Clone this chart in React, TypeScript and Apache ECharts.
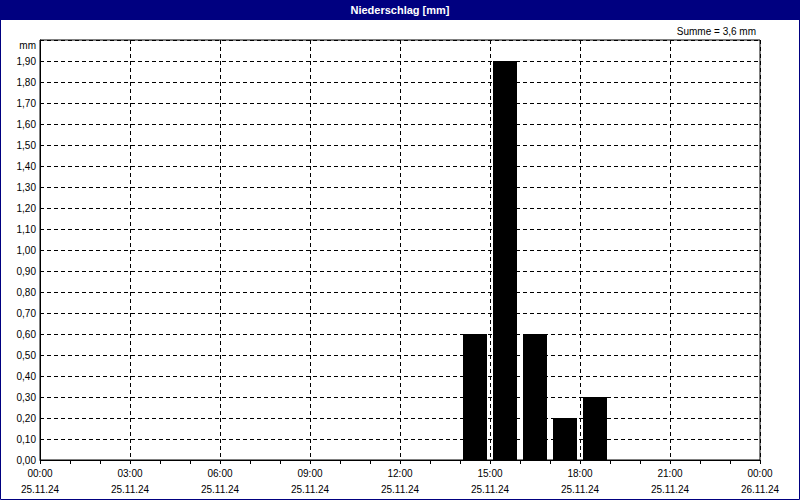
import React, { useEffect, useRef } from "react";
import * as echarts from "echarts";

const titleText = "Niederschlag [mm]";
const sumText = "Summe = 3,6 mm";
const unitText = "mm";
const barStartHours = [14, 15, 16, 17, 18];
const barValues = [0.6, 1.9, 0.6, 0.2, 0.3];
const startDate = "25.11.24";
const endDate = "26.11.24";

const FONT = "Liberation Sans";

export default function App() {
  const ref = useRef<HTMLDivElement>(null);
  useEffect(() => {
    const chart = echarts.init(ref.current!, undefined, { renderer: "svg" });
    const pad = (n: number) => (n < 10 ? "0" + n : "" + n);
    chart.setOption({
      animation: false,
      backgroundColor: "#ffffff",
      textStyle: { fontFamily: FONT },
      grid: { left: 40, right: 40, top: 40, bottom: 40, show: true, borderColor: "#000", borderWidth: 1, backgroundColor: "transparent" },
      xAxis: {
        type: "value",
        min: 0,
        max: 24,
        interval: 3,
        axisLine: { show: true, lineStyle: { color: "#000", width: 1 } },
        axisTick: { show: true, length: 4, lineStyle: { color: "#000" } },
        minorTick: { show: true, splitNumber: 3, length: 4, lineStyle: { color: "#000" } },
        splitLine: { show: true, lineStyle: { color: "#000", type: [4, 3], width: 1 } },
        axisLabel: {
          color: "#000",
          fontSize: 10,
          fontFamily: FONT,
          lineHeight: 16,
          margin: 5,
          showMinLabel: true,
          showMaxLabel: true,
          formatter: (v: number) => {
            const h = Math.round(v) % 24;
            const d = v >= 24 ? endDate : startDate;
            return pad(h) + ":00\n" + d;
          },
        },
      },
      yAxis: {
        type: "value",
        min: 0,
        max: 2,
        interval: 0.1,
        axisLine: { show: true, lineStyle: { color: "#000", width: 1 } },
        axisTick: { show: false },
        splitLine: { show: true, lineStyle: { color: "#000", type: [4, 3], width: 1 } },
        axisLabel: {
          color: "#000",
          fontSize: 10,
          fontFamily: FONT,
          margin: 4,
          showMaxLabel: false,
          formatter: (v: number) => (v >= 1.999 ? "" : v.toFixed(2).replace(".", ",")),
        },
      },
      series: [
        {
          type: "bar",
          barWidth: 24,
          itemStyle: { color: "#000" },
          data: barStartHours.map((h, i) => [h + 0.5, barValues[i]]),
        },
      ],
      graphic: [
        { type: "rect", shape: { x: 0, y: 0, width: 800, height: 20 }, style: { fill: "#000080" }, z: 10 },
        {
          type: "text",
          x: 400,
          y: 10,
          style: { text: titleText, fill: "#fff", font: `bold 11px "${FONT}"`, textAlign: "center", textVerticalAlign: "middle" },
          z: 11,
        },
        { type: "rect", shape: { x: 0.5, y: 0.5, width: 799, height: 499 }, style: { fill: "none", stroke: "#000080", lineWidth: 1 }, z: 10 },
        {
          type: "text",
          x: 756,
          y: 31,
          style: { text: sumText, fill: "#000", font: `10px "${FONT}"`, textAlign: "right", textVerticalAlign: "middle" },
          z: 11,
        },
        {
          type: "text",
          x: 36,
          y: 45,
          style: { text: unitText, fill: "#000", font: `10px "${FONT}"`, textAlign: "right", textVerticalAlign: "middle" },
          z: 11,
        },
      ],
    });
    return () => chart.dispose();
  }, []);
  return <div ref={ref} style={{ position: "fixed", left: 0, top: 0, width: 800, height: 500 }} />;
}
